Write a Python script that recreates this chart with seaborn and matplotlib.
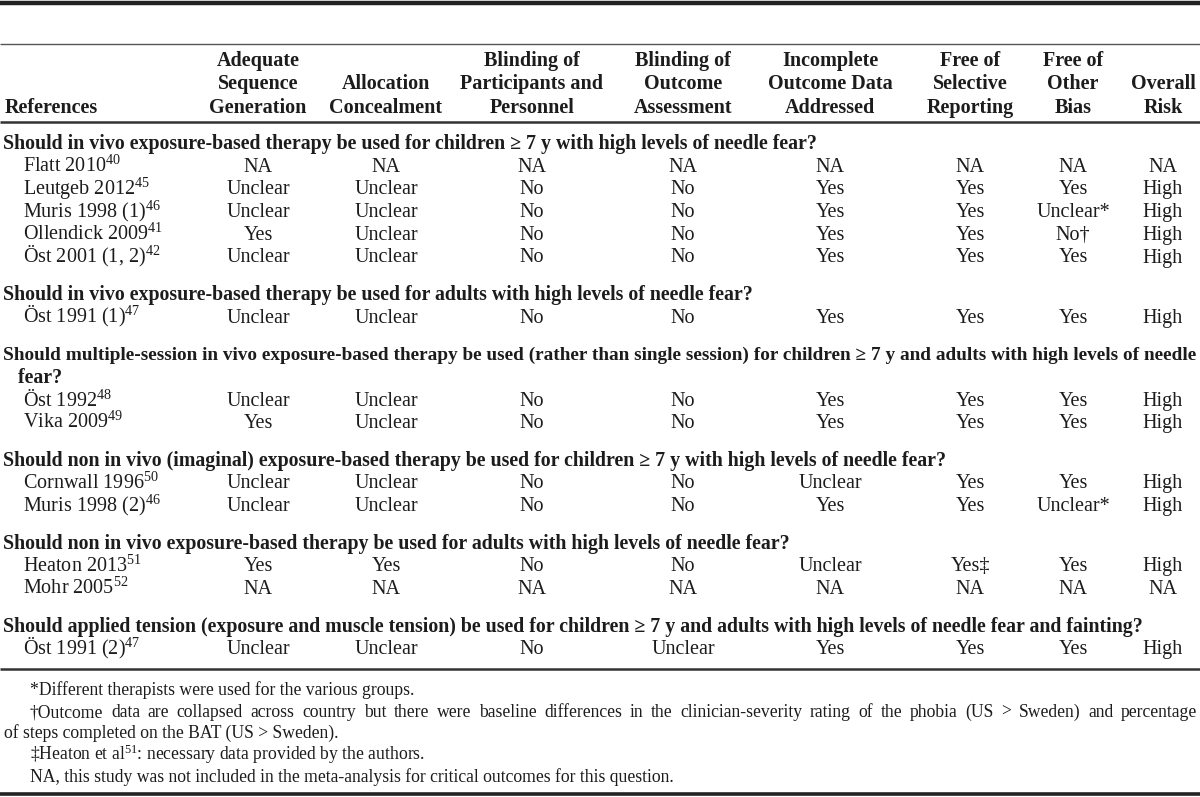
import matplotlib
matplotlib.use("Agg")
import matplotlib.pyplot as plt
import seaborn as sns

# table content
columns = ["References",
           "Adequate\nSequence\nGeneration",
           "Allocation\nConcealment",
           "Blinding of\nParticipants and\nPersonnel",
           "Blinding of\nOutcome\nAssessment",
           "Incomplete\nOutcome Data\nAddressed",
           "Free of\nSelective\nReporting",
           "Free of\nOther\nBias",
           "Overall\nRisk"]

questions = [
    "Should in vivo exposure-based therapy be used for children \u2265 7 y with high levels of needle fear?",
    "Should in vivo exposure-based therapy be used for adults with high levels of needle fear?",
    "Should multiple-session in vivo exposure-based therapy be used (rather than single session) for children \u2265 7 y and adults with high levels of needle\n   fear?",
    "Should non in vivo (imaginal) exposure-based therapy be used for children \u2265 7 y with high levels of needle fear?",
    "Should non in vivo exposure-based therapy be used for adults with high levels of needle fear?",
    "Should applied tension (exposure and muscle tension) be used for children \u2265 7 y and adults with high levels of needle fear and fainting?",
]

studies = [
    [("Flatt 2010", "40"), ("Leutgeb 2012", "45"), ("Muris 1998 (1)", "46"),
     ("Ollendick 2009", "41"), ("Öst 2001 (1, 2)", "42")],
    [("Öst 1991 (1)", "47")],
    [("Öst 1992", "48"), ("Vika 2009", "49")],
    [("Cornwall 1996", "50"), ("Muris 1998 (2)", "46")],
    [("Heaton 2013", "51"), ("Mohr 2005", "52")],
    [("Öst 1991 (2)", "47")],
]

ratings = [
    [["NA", "NA", "NA", "NA", "NA", "NA", "NA", "NA"],
     ["Unclear", "Unclear", "No", "No", "Yes", "Yes", "Yes", "High"],
     ["Unclear", "Unclear", "No", "No", "Yes", "Yes", "Unclear*", "High"],
     ["Yes", "Unclear", "No", "No", "Yes", "Yes", "No†", "High"],
     ["Unclear", "Unclear", "No", "No", "Yes", "Yes", "Yes", "High"]],
    [["Unclear", "Unclear", "No", "No", "Yes", "Yes", "Yes", "High"]],
    [["Unclear", "Unclear", "No", "No", "Yes", "Yes", "Yes", "High"],
     ["Yes", "Unclear", "No", "No", "Yes", "Yes", "Yes", "High"]],
    [["Unclear", "Unclear", "No", "No", "Unclear", "Yes", "Yes", "High"],
     ["Unclear", "Unclear", "No", "No", "Yes", "Yes", "Unclear*", "High"]],
    [["Yes", "Yes", "No", "No", "Unclear", "Yes‡", "Yes", "High"],
     ["NA", "NA", "NA", "NA", "NA", "NA", "NA", "NA"]],
    [["Unclear", "Unclear", "No", "Unclear", "Yes", "Yes", "Yes", "High"]],
]

footnotes = [
    "*Different therapists were used for the various groups.",
    "†Outcome data are collapsed across country but there were baseline differences in the clinician-severity rating of the phobia (US > Sweden) and percentage",
    "of steps completed on the BAT (US > Sweden).",
    "‡Heaton et al$^{\\mathrm{51}}$: necessary data provided by the authors.",
    "NA, this study was not included in the meta-analysis for critical outcomes for this question.",
]

sns.set_theme(style="white")
plt.rcParams["font.family"] = ["Liberation Serif", "DejaVu Serif"]
plt.rcParams["mathtext.fontset"] = "custom"
plt.rcParams["mathtext.rm"] = "Liberation Serif"
plt.rcParams["mathtext.it"] = "Liberation Serif:italic"
plt.rcParams["mathtext.bf"] = "Liberation Serif:bold"

ink = "#1c1c1c"
col_x = [5, 258, 386, 532, 683, 830, 970, 1073, 1163]
fs = 14.5
q_fs = 14.35
fn_fs = 12.7

fig = plt.figure(figsize=(12, 7.97), dpi=100)
ax = fig.add_axes([0, 0, 1, 1])
ax.set_xlim(0, 1200)
ax.set_ylim(797, 0)
ax.axis("off")
renderer = fig.canvas.get_renderer()
inv = ax.transData.inverted()


def text_width(t):
    bb = t.get_window_extent(renderer)
    return inv.transform((bb.x1, bb.y0))[0] - inv.transform((bb.x0, bb.y0))[0]


# rules
ax.hlines(3, 0, 1200, color="#222222", lw=3.2)
ax.hlines(44, 0, 1200, color="#555555", lw=1.0)
ax.hlines(122, 0, 1200, color="#333333", lw=1.8)
ax.hlines(669, 0, 1200, color="#333333", lw=1.8)
ax.hlines(794, 0, 1200, color="#222222", lw=2.6)

# header
head_base = [66, 89, 113]
for j, name in enumerate(columns):
    lines = name.split("\n")
    for k, ln in enumerate(lines):
        y = head_base[3 - len(lines) + k]
        ax.text(col_x[j], y, ln, ha="left" if j == 0 else "center", va="baseline",
                fontsize=fs, fontweight="bold", color=ink)

# body
step = 22.7
y = 149
for g, q in enumerate(questions):
    for ln in q.split("\n"):
        t = ax.text(3, y, ln, ha="left", va="baseline", fontsize=q_fs,
                    fontweight="bold", color=ink)
        w = text_width(t)
        if w > 1193:
            t.set_fontsize(q_fs * 1193 / w)
        y += step
    for (name, ref), row in zip(studies[g], ratings[g]):
        ax.text(23, y, name + "$^{\\mathrm{" + ref + "}}$", ha="left", va="baseline",
                fontsize=fs, color=ink)
        for j, val in enumerate(row):
            ax.text(col_x[j + 1], y, val, ha="center", va="baseline",
                    fontsize=fs, color=ink)
        y += step
    y += 37.5 - step

# footnotes (second one is justified to the full width)
fy = [695, 717, 738, 760, 782]
fx = [30, 30, 4, 30, 30]
for i, (t, yy, xx) in enumerate(zip(footnotes, fy, fx)):
    if i != 1:
        ax.text(xx, yy, t, ha="left", va="baseline", fontsize=fn_fs, color=ink)
        continue
    words = t.split(" ")
    arts = [ax.text(0, yy, w, ha="left", va="baseline", fontsize=fn_fs, color=ink)
            for w in words]
    widths = [text_width(a) for a in arts]
    gap = (1197 - xx - sum(widths)) / (len(words) - 1)
    pos = xx
    for a, w in zip(arts, widths):
        a.set_x(pos)
        pos += w + gap

fig.savefig("out.png", dpi=100)
